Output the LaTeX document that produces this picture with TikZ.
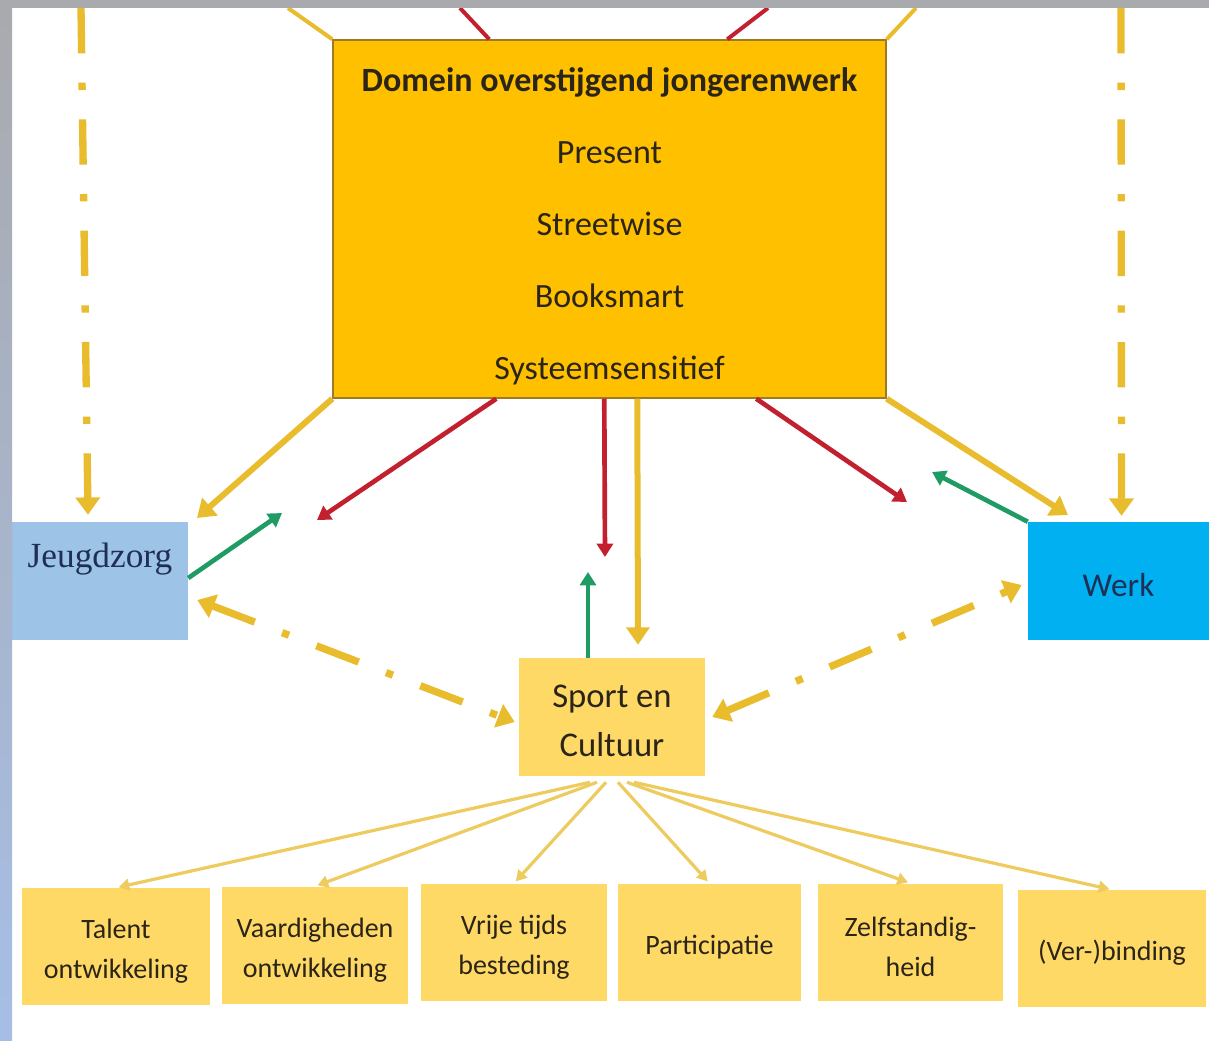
\documentclass[tikz,border=0pt]{standalone}
\usepackage{fontspec}
\setmainfont{Carlito}
\newfontfamily\serifjz{Liberation Serif}
\usepackage{xcolor}
\usepackage{tikz}
\usetikzlibrary{arrows.meta,calc}

\definecolor{domein}{HTML}{FFC000}
\definecolor{domeinrand}{HTML}{9C7A2A}
\definecolor{jeugdblauw}{HTML}{9DC3E6}
\definecolor{werkblauw}{HTML}{00B0F0}
\definecolor{sportgeel}{HTML}{FFD966}
\definecolor{pijlgeel}{HTML}{E8BC2C}
\definecolor{pijlrood}{HTML}{C3202F}
\definecolor{pijlgroen}{HTML}{1E9C63}
\definecolor{waaiergeel}{HTML}{EDCB5E}
\definecolor{tekst}{HTML}{2B2418}
\definecolor{navy}{HTML}{1F2F55}
\definecolor{stripgrijs}{HTML}{A9AAAD}
\definecolor{stripblauw}{HTML}{A6BEE6}

\newcommand{\vakstrut}{\rule{0pt}{22pt}}

\begin{document}
\begin{tikzpicture}[x=0.75pt,y=0.75pt,yscale=-1,xscale=1,
  vak/.style={fill=sportgeel, text=tekst, inner sep=0pt, minimum width=186*0.75pt, minimum height=117*0.75pt, align=center, font=\fontsize{21}{30}\selectfont},
  geel/.style={draw=pijlgeel, line width=4.5pt, -{Triangle[width=17pt,length=13pt]}},
  rood/.style={draw=pijlrood, line width=3.5pt, -{Triangle[width=12pt,length=10pt]}},
  groen/.style={draw=pijlgroen, line width=3.5pt, -{Triangle[width=12pt,length=10pt]}},
  streeppunt/.style={draw=pijlgeel, line width=5.5pt, dash pattern=on 34pt off 22pt on 5.5pt off 22pt},
  waaier/.style={draw=waaiergeel, line width=2.4pt, shorten >=2pt, -{Triangle[width=9pt,length=8pt]}}]
\useasboundingbox (0,0) rectangle (1209,1040);

%Shape: Rectangle [domein]
\node[draw=domeinrand, line width=1.1pt, fill=domein, text=tekst, minimum width=553*0.75pt, minimum height=358*0.75pt, inner sep=0pt, align=center, font=\fontsize{25.5}{54}\selectfont] (domein) at (609.5,219) {\rule{0pt}{29pt}\textbf{Domein overstijgend jongerenwerk}\\Present\\Streetwise\\Booksmart\\Systeemsensitief};
%Shape: Rectangle [jeugd]
\node[fill=jeugdblauw, text=navy, minimum width=176*0.75pt, minimum height=118*0.75pt, inner sep=0pt, font=\serifjz\fontsize{26.5}{30}\selectfont, text height=18pt, text depth=39pt] (jeugd) at (100,581) {Jeugdzorg\hspace{7pt}};
%Shape: Rectangle [werk]
\node[fill=werkblauw, text=navy, minimum width=181*0.75pt, minimum height=118*0.75pt, inner sep=0pt, font=\fontsize{25}{30}\selectfont, text height=23.5pt, text depth=0pt] (werk) at (1118.5,581) {Werk};
%Shape: Rectangle [sport]
\node[vak, minimum height=118*0.75pt, font=\fontsize{26}{37}\selectfont] (sport) at (612,717) {\rule{0pt}{23pt}Sport en\\Cultuur};

%Shape: Rectangles, bottom row
\node[vak, minimum width=188*0.75pt] (talent) at (116,946.5) {\vakstrut Talent\\ontwikkeling};
\node[vak] (vaardig) at (315,945) {\vakstrut Vaardigheden\\ontwikkeling};
\node[vak] (vrijetijd) at (514,942) {\vakstrut Vrije tijds\\besteding};
\node[vak, minimum width=183*0.75pt] (participatie) at (709.5,942) {\vakstrut Participatie};
\node[vak, minimum width=185*0.75pt] (zelfstandig) at (910.5,942) {\vakstrut Zelfstandig-\\heid};
\node[vak, minimum width=188*0.75pt] (binding) at (1112,948.5) {\vakstrut (Ver-)binding};

% free ends
\coordinate (bovenLG) at (288,8);
\coordinate (bovenLR) at (460,8);
\coordinate (bovenRR) at (768,8);
\coordinate (bovenRG) at (916,8);
\coordinate (stippelL) at (81,8);
\coordinate (stippelR) at (1121,8);
\coordinate (naarJeugd) at (197,518);
\coordinate (roodL) at (317,520);
\coordinate (roodM) at (605,557);
\coordinate (roodR) at (907,502);
\coordinate (naarWerk) at (1068,515);
\coordinate (groenL) at (282,513);
\coordinate (groenM) at (588,572);
\coordinate (groenR) at (932,472);

%Straight Lines, leaving the top
\draw[draw=pijlgeel, line width=3pt] (domein.north west) -- (bovenLG);
\draw[draw=pijlrood, line width=3pt] ($(domein.north west)+(157,0)$) -- (bovenLR);
\draw[draw=pijlrood, line width=3pt] ($(domein.north west)+(395,0)$) -- (bovenRR);
\draw[draw=pijlgeel, line width=3pt] (domein.north east) -- (bovenRG);

%Straight Lines, below the domein box
\draw[geel] (domein.south west) -- (naarJeugd);
\draw[rood] ($(domein.south west)+(164,0)$) -- (roodL);
\draw[rood] ($(domein.south west)+(272,0)$) -- (roodM);
\draw[geel] ($(domein.south west)+(305,0)$) -- ($(sport.north)+(26,-13)$);
\draw[rood] ($(domein.south west)+(424,0)$) -- (roodR);
\draw[geel] (domein.south east) -- (naarWerk);

%Straight Lines, green
\draw[groen] ($(jeugd.east)+(0,-3)$) -- (groenL);
\draw[groen] ($(sport.north)+(-24,0)$) -- (groenM);
\draw[groen] (werk.north west) -- (groenR);

%Dash dot lines
\draw[streeppunt, -{Triangle[width=18pt,length=13pt]}] (stippelL) -- ($(jeugd.north)+(-12,-7)$);
\draw[streeppunt, -{Triangle[width=18pt,length=13pt]}] (stippelR) -- ($(werk.north)+(3,-6)$);
\draw[streeppunt, {Triangle[width=18pt,length=13pt]}-{Triangle[width=18pt,length=13pt]}] ($(jeugd.east)+(9,19)$) -- ($(sport.west)+(-4,5)$);
\draw[streeppunt, {Triangle[width=18pt,length=13pt]}-{Triangle[width=18pt,length=13pt]}] ($(sport.east)+(7,0)$) -- ($(werk.west)+(-6,4)$);

%Straight Lines, fan to the bottom row
\foreach \doel/\dx in {talent/-22,vaardig/-15,vrijetijd/-6,participatie/6,zelfstandig/15,binding/22}
  \draw[waaier] ($(sport.south)+(\dx,6)$) -- (\doel.north);

% frame strips
\shade[top color=stripgrijs, bottom color=stripblauw] (0,0) rectangle (12,1040);
\fill[stripgrijs] (0,0) rectangle (1209,8);
\end{tikzpicture}
\end{document}
